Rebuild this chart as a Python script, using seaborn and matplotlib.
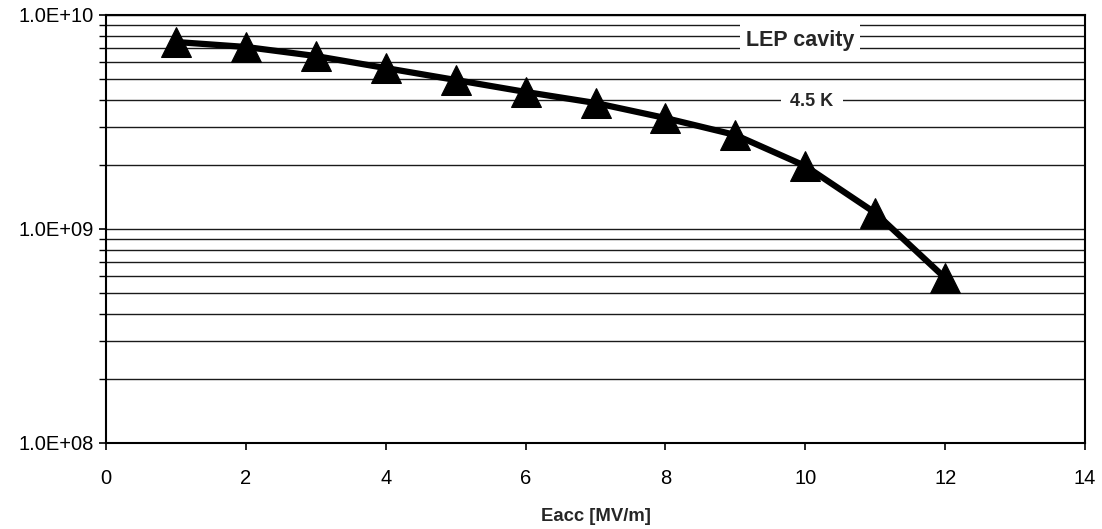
import matplotlib
matplotlib.use("Agg")
import matplotlib.pyplot as plt
import matplotlib.ticker as mticker
import seaborn as sns
import pandas as pd
import numpy as np

eacc = [1, 2, 3, 4, 5, 6, 7, 8, 9, 10, 11, 12]
q0 = [7.48e9, 7.09e9, 6.43e9, 5.65e9, 4.97e9, 4.37e9, 3.88e9, 3.30e9, 2.75e9, 1.97e9, 1.19e9, 5.9e8]
x_label = "Eacc [MV/m]"
title_text = "LEP cavity"
temp_text = "4.5 K"

sns.set_style("white")
plt.rcParams['font.family'] = ['Liberation Sans', 'DejaVu Sans']

df = pd.DataFrame({"Eacc": eacc, "Q0": q0})

fig = plt.figure(figsize=(11.02, 5.29), dpi=100)
ax = fig.add_axes([106/1102, 1-443/529, (1085-106)/1102, (443-15)/529])

sns.lineplot(data=df, x="Eacc", y="Q0", ax=ax, color="black", linewidth=4.5,
             marker="^", markersize=21, markeredgecolor="black", markerfacecolor="black",
             zorder=5)

ax.set_yscale("log")
ax.set_xlim(0, 14)
ax.set_ylim(1e8, 1e10)
ax.set_xticks(range(0, 15, 2))
ax.yaxis.set_major_locator(mticker.LogLocator(base=10, numticks=5))
ax.yaxis.set_minor_locator(mticker.LogLocator(base=10, subs=np.arange(2, 10), numticks=20))
ax.yaxis.set_major_formatter(mticker.FuncFormatter(lambda v, p: "%.1E" % v))
ax.yaxis.set_minor_formatter(mticker.NullFormatter())

ax.grid(True, which="both", axis="y", color="#1a1a1a", linewidth=1.0)
ax.grid(False, axis="x")
ax.set_axisbelow(True)

for s in ax.spines.values():
    s.set_visible(True)
    s.set_color("black")
    s.set_linewidth(1.5)

ax.tick_params(axis="both", which="major", direction="out", length=5, width=1.2,
               colors="black", labelsize=14.5, left=True, bottom=True)
ax.tick_params(axis="y", which="minor", direction="out", length=5, width=1.0,
               colors="black", left=True)
ax.tick_params(axis="x", pad=14)
ax.tick_params(axis="y", pad=4)

ax.set_xlabel(x_label, fontsize=13.3, fontweight="bold", labelpad=14)
ax.set_ylabel("")

ax.text((800 - 106) / (1085 - 106), 7.6e9, title_text, fontsize=15.5, fontweight="bold",
        ha="center", va="center", transform=ax.get_yaxis_transform(), zorder=6,
        bbox=dict(facecolor="white", edgecolor="none", pad=4))
ax.text((812 - 106) / (1085 - 106), 3.95e9, temp_text, fontsize=13, fontweight="bold",
        ha="center", va="center", transform=ax.get_yaxis_transform(), zorder=6,
        bbox=dict(facecolor="white", edgecolor="none", pad=7))

fig.savefig("out.png", dpi=100, facecolor="white")
